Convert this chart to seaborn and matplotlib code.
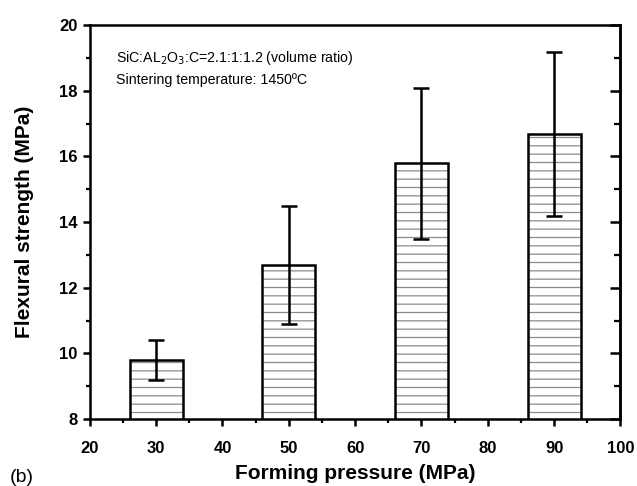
import numpy as np
import pandas as pd
import matplotlib
matplotlib.use('Agg')
import matplotlib.pyplot as plt
import seaborn as sns
from matplotlib.ticker import MultipleLocator

# data
pressure = [30, 50, 70, 90]
strength = [9.8, 12.7, 15.8, 16.7]
err = [0.6, 1.8, 2.3, 2.5]

sns.set_style('ticks')
plt.rcParams['font.family'] = ['Liberation Sans', 'DejaVu Sans']
plt.rcParams['hatch.linewidth'] = 0.9
for k in ['text.color', 'axes.labelcolor', 'xtick.color', 'ytick.color', 'axes.edgecolor']:
    plt.rcParams[k] = 'black'

df = pd.DataFrame({'pressure': pressure, 'strength': strength})

fig = plt.figure(figsize=(6.37, 4.86), dpi=100)
ax = fig.add_axes([0.141, 0.138, 0.833, 0.810])

# hatched fill (grey lines) then black outline on top
sns.barplot(data=df, x='pressure', y='strength', native_scale=True, width=0.4,
            errorbar=None, color='white', ax=ax)
for p in ax.patches:
    p.set_hatch('--')
    p.set_facecolor('white')
    p.set_edgecolor('#8c8c8c')
    p.set_linewidth(0)
sns.barplot(data=df, x='pressure', y='strength', native_scale=True, width=0.4,
            errorbar=None, fill=False, edgecolor='black', linewidth=1.8, ax=ax)

ax.errorbar(pressure, strength, yerr=err, fmt='none', ecolor='black',
            elinewidth=1.8, capsize=6, capthick=1.8, zorder=5)

ax.set_xlim(20, 100)
ax.set_ylim(8, 20)
ax.xaxis.set_major_locator(MultipleLocator(10))
ax.xaxis.set_minor_locator(MultipleLocator(5))
ax.yaxis.set_major_locator(MultipleLocator(2))
ax.yaxis.set_minor_locator(MultipleLocator(1))

for s in ax.spines.values():
    s.set_linewidth(1.8)
ax.tick_params(which='major', direction='out', length=5, width=1.8, labelsize=12)
ax.tick_params(which='minor', direction='out', length=3, width=1.6)
ax.tick_params(axis='x', which='major', pad=11)
ax.tick_params(axis='y', which='major', pad=4)
for lab in ax.get_xticklabels() + ax.get_yticklabels():
    lab.set_fontweight('bold')

sec = ax.secondary_yaxis('right')
sec.yaxis.set_major_locator(MultipleLocator(2))
sec.yaxis.set_minor_locator(MultipleLocator(1))
sec.tick_params(which='major', direction='in', length=7, width=1.8, labelright=False)
sec.tick_params(which='minor', direction='in', length=4, width=1.6)
sec.spines['right'].set_linewidth(1.8)

ax.set_xlabel('Forming pressure (MPa)', fontsize=15, fontweight='bold', labelpad=6)
ax.set_ylabel('Flexural strength (MPa)', fontsize=15, fontweight='bold', labelpad=18)

ax.text(0.05, 0.917, r'SiC:AL$_2$O$_3$:C=2.1:1:1.2 (volume ratio)', transform=ax.transAxes,
        fontsize=10.2, va='center', ha='left')
ax.text(0.05, 0.860, 'Sintering temperature: 1450\u00baC', transform=ax.transAxes,
        fontsize=10.2, va='center', ha='left')
fig.text(0.015, 0.008, '(b)', fontsize=14, ha='left', va='baseline')

fig.savefig('out.png', dpi=100)
